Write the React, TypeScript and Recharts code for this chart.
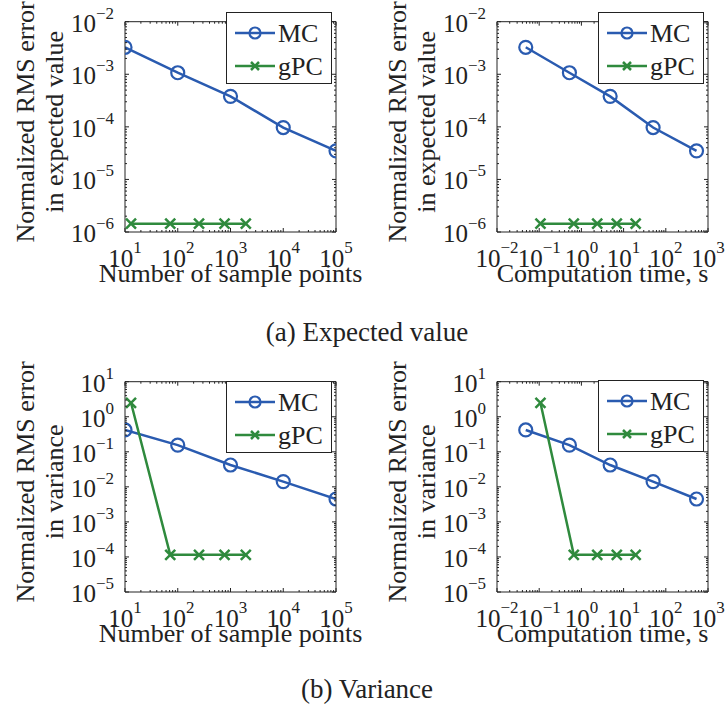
import React from "react";
import { LineChart, Line, XAxis, YAxis, Legend } from "recharts";

// values
const mcSamples = [10, 100, 1000, 10000, 100000];
const gpcSamples = [13, 72, 253, 771, 1950];
const mcTime = [0.048, 0.52, 4.8, 50, 535];
const gpcTime = [0.107, 0.66, 2.37, 6.9, 19.3];

const mcMeanErr = [3.26e-3, 1.07e-3, 3.8e-4, 9.7e-5, 3.5e-5];
const gpcMeanErr = [1.44e-6, 1.44e-6, 1.44e-6, 1.44e-6, 1.44e-6];
const mcVarErr = [0.42, 0.155, 0.042, 0.0141, 0.0045];
const gpcVarErr = [2.5, 1.15e-4, 1.15e-4, 1.15e-4, 1.15e-4];

// decades shown as tick labels (10^k)
const sampleDecades = [1, 2, 3, 4, 5];
const timeDecades = [-2, -1, 0, 1, 2, 3];
const meanDecades = [-6, -5, -4, -3, -2];
const varDecades = [-5, -4, -3, -2, -1, 0, 1];

const legendItems = [
  { name: "MC", marker: "circle" },
  { name: "gPC", marker: "cross" },
];

const BLUE = "#2a5bb0";
const GREEN = "#2f8a3d";
const INK = "#222";
const FONT = "'Liberation Serif', 'Times New Roman', Times, serif";
const txt = { fontFamily: FONT };

type Pt = { x: number; y: number };
const zip = (xs: number[], ys: number[]): Pt[] => xs.map((x, i) => ({ x, y: ys[i] }));

const withMinors = (decades: number[]) => {
  const out: number[] = [];
  decades.forEach((d, i) => {
    out.push(Math.pow(10, d));
    if (i < decades.length - 1) {
      for (let m = 2; m <= 9; m++) out.push(m * Math.pow(10, d));
    }
  });
  return out;
};

const isMajor = (v: number) => {
  const e = Math.log10(v);
  return Math.abs(e - Math.round(e)) < 1e-6;
};

const sup = (v: number) => {
  const e = Math.round(Math.log10(v));
  return e < 0 ? `\u2212${-e}` : `${e}`;
};

const W = 363;
const H = 300;
const TOP = 20.7;
const XAXIS_H = 68;
const plotTop = TOP + 1;
const plotBottom = H - XAXIS_H;

// side: where the axis sits; edge: the pixel line of that axis
const makeTick = (side: "bottom" | "top" | "left" | "right", edge: number, showLabel: boolean) => (props: any) => {
  const { payload } = props;
  const v = payload.value;
  const major = isMajor(v);
  const len = major ? 4 : 2;
  const horiz = side === "bottom" || side === "top";
  const x = horiz ? props.x : edge;
  const y = horiz ? edge : props.y;
  let x2 = x;
  let y2 = y;
  if (side === "bottom") y2 = y - len;
  if (side === "top") y2 = y + len;
  if (side === "left") x2 = x + len;
  if (side === "right") x2 = x - len;
  return (
    <g>
      <line x1={x} y1={y} x2={x2} y2={y2} stroke={INK} strokeWidth={1} />
      {showLabel && major && side === "bottom" && (
        <text x={x} y={y + 35} textAnchor="middle" fontSize={25} fill={INK} style={txt}>
          <tspan>10</tspan>
          <tspan dy={-14} fontSize={17}>{sup(v)}</tspan>
        </text>
      )}
      {showLabel && major && side === "left" && (
        <text x={x - 11} y={y + 10} textAnchor="end" fontSize={25} fill={INK} style={txt}>
          <tspan>10</tspan>
          <tspan dy={-13} fontSize={17}>{sup(v)}</tspan>
        </text>
      )}
    </g>
  );
};

const CircleDot = (props: any) => {
  const { cx, cy, index } = props;
  return <circle key={`c${index}`} cx={cx} cy={cy} r={6.5} fill="none" stroke={BLUE} strokeWidth={2.2} />;
};

const CrossDot = (props: any) => {
  const { cx, cy, index } = props;
  const s = 5;
  return (
    <path
      key={`x${index}`}
      d={`M${cx - s},${cy - s}L${cx + s},${cy + s}M${cx - s},${cy + s}L${cx + s},${cy - s}`}
      stroke={GREEN}
      strokeWidth={2.5}
      fill="none"
    />
  );
};

const LegendBox = () => (
  <div style={{ width: 106, height: 72, boxSizing: "border-box", border: `1px solid ${INK}`, background: "#fff" }}>
    <svg width={104} height={70} style={{ display: "block" }}>
      {legendItems.map((it, i) => {
        const cy = 20 + i * 33;
        const color = it.marker === "circle" ? BLUE : GREEN;
        return (
          <g key={it.name}>
            <line x1={8} x2={48} y1={cy} y2={cy} stroke={color} strokeWidth={2.5} />
            {it.marker === "circle" ? (
              <circle cx={28} cy={cy} r={5.5} fill="none" stroke={color} strokeWidth={2.2} />
            ) : (
              <path d={`M24,${cy - 4}L32,${cy + 4}M24,${cy + 4}L32,${cy - 4}`} stroke={color} strokeWidth={2.5} />
            )}
            <text x={51} y={cy + 9} fontSize={26} fill={INK} style={txt}>
              {it.name}
            </text>
          </g>
        );
      })}
    </svg>
  </div>
);

interface PanelProps {
  left: number;
  top: number;
  yAxisW: number;
  marginRight: number;
  legendTop: number;
  xDecades: number[];
  yDecades: number[];
  mc: Pt[];
  gpc: Pt[];
  xTitle: string;
  yTitle: string[];
}

const Panel = ({ left, top, yAxisW, marginRight, legendTop, xDecades, yDecades, mc, gpc, xTitle, yTitle }: PanelProps) => {
  const xTicks = withMinors(xDecades);
  const yTicks = withMinors(yDecades);
  const xDomain = [Math.pow(10, xDecades[0]), Math.pow(10, xDecades[xDecades.length - 1])];
  const yDomain = [Math.pow(10, yDecades[0]), Math.pow(10, yDecades[yDecades.length - 1])];
  const plotRight = W - marginRight - 1;
  const plotLeft = yAxisW;

  const xLabel = () => (
    <text x={(plotLeft + plotRight) / 2} y={plotBottom + 50} textAnchor="middle" fontSize={26} fill={INK} style={txt}>
      {xTitle}
    </text>
  );

  const yLabel = () => {
    const cy = (plotTop + plotBottom) / 2 - 5;
    return (
      <g>
        {yTitle.map((t, i) => (
          <text
            key={t}
            transform={`translate(${plotLeft - 91 + i * 29},${cy}) rotate(-90)`}
            textAnchor="middle"
            fontSize={26}
            fill={INK}
            style={txt}
          >
            {t}
          </text>
        ))}
      </g>
    );
  };

  return (
    <div style={{ position: "absolute", left, top, width: W, height: H }}>
      <LineChart width={W} height={H} margin={{ top: TOP, right: marginRight, bottom: 0, left: 0 }}>
        <XAxis
          xAxisId="b"
          dataKey="x"
          type="number"
          scale="log"
          domain={xDomain}
          allowDataOverflow
          ticks={xTicks}
          interval={0}
          height={XAXIS_H}
          tickSize={0}
          tickMargin={0}
          tickLine={false}
          axisLine={{ stroke: INK }}
          tick={makeTick("bottom", plotBottom, true)}
          label={{ content: xLabel }}
        />
        <XAxis
          xAxisId="t"
          orientation="top"
          dataKey="x"
          type="number"
          scale="log"
          domain={xDomain}
          allowDataOverflow
          ticks={xTicks}
          interval={0}
          height={1}
          tickSize={0}
          tickMargin={0}
          tickLine={false}
          axisLine={{ stroke: INK }}
          tick={makeTick("top", plotTop, false)}
        />
        <YAxis
          yAxisId="l"
          type="number"
          scale="log"
          domain={yDomain}
          allowDataOverflow
          ticks={yTicks}
          interval={0}
          width={yAxisW}
          tickSize={0}
          tickMargin={0}
          tickLine={false}
          axisLine={{ stroke: INK }}
          tick={makeTick("left", plotLeft, true)}
          label={{ content: yLabel }}
        />
        <YAxis
          yAxisId="r"
          orientation="right"
          type="number"
          scale="log"
          domain={yDomain}
          allowDataOverflow
          ticks={yTicks}
          interval={0}
          width={1}
          tickSize={0}
          tickMargin={0}
          tickLine={false}
          axisLine={{ stroke: INK }}
          tick={makeTick("right", plotRight, false)}
        />
        <Line
          xAxisId="b"
          yAxisId="l"
          data={mc}
          dataKey="y"
          name="MC"
          stroke={BLUE}
          strokeWidth={2.5}
          dot={CircleDot}
          activeDot={false}
          isAnimationActive={false}
        />
        <Line
          xAxisId="b"
          yAxisId="l"
          data={gpc}
          dataKey="y"
          name="gPC"
          stroke={GREEN}
          strokeWidth={2.5}
          dot={CrossDot}
          activeDot={false}
          isAnimationActive={false}
        />
        <Legend
          layout="vertical"
          align="center"
          verticalAlign="middle"
          wrapperStyle={{ top: legendTop, left: plotRight - 4 - 106, width: 106, height: 72 }}
          content={() => <LegendBox />}
        />
      </LineChart>
    </div>
  );
};

const Caption = ({ text, top }: { text: string; top: number }) => (
  <div
    style={{
      position: "absolute",
      left: 0,
      width: 734,
      top,
      height: 30,
      lineHeight: "30px",
      textAlign: "center",
      fontSize: 27,
      fontFamily: FONT,
      color: INK,
    }}
  >
    {text}
  </div>
);

export default function App() {
  const yMean = ["Normalized RMS error", "in expected value"];
  const yVar = ["Normalized RMS error", "in variance"];
  return (
    <div style={{ position: "absolute", left: 0, top: 0, width: 726, height: 710, background: "#fff", overflow: "hidden" }}>
      <Panel
        left={0}
        top={0}
        yAxisW={125}
        marginRight={26}
        legendTop={12}
        xDecades={sampleDecades}
        yDecades={meanDecades}
        mc={zip(mcSamples, mcMeanErr)}
        gpc={zip(gpcSamples, gpcMeanErr)}
        xTitle="Number of sample points"
        yTitle={yMean}
      />
      <Panel
        left={363}
        top={0}
        yAxisW={134}
        marginRight={17}
        legendTop={12}
        xDecades={timeDecades}
        yDecades={meanDecades}
        mc={zip(mcTime, mcMeanErr)}
        gpc={zip(gpcTime, gpcMeanErr)}
        xTitle="Computation time, s"
        yTitle={yMean}
      />
      <Caption text="(a) Expected value" top={317} />
      <Panel
        left={0}
        top={360}
        yAxisW={125}
        marginRight={26}
        legendTop={20.5}
        xDecades={sampleDecades}
        yDecades={varDecades}
        mc={zip(mcSamples, mcVarErr)}
        gpc={zip(gpcSamples, gpcVarErr)}
        xTitle="Number of sample points"
        yTitle={yVar}
      />
      <Panel
        left={363}
        top={360}
        yAxisW={134}
        marginRight={17}
        legendTop={20}
        xDecades={timeDecades}
        yDecades={varDecades}
        mc={zip(mcTime, mcVarErr)}
        gpc={zip(gpcTime, gpcVarErr)}
        xTitle="Computation time, s"
        yTitle={yVar}
      />
      <Caption text="(b) Variance" top={674} />
    </div>
  );
}
